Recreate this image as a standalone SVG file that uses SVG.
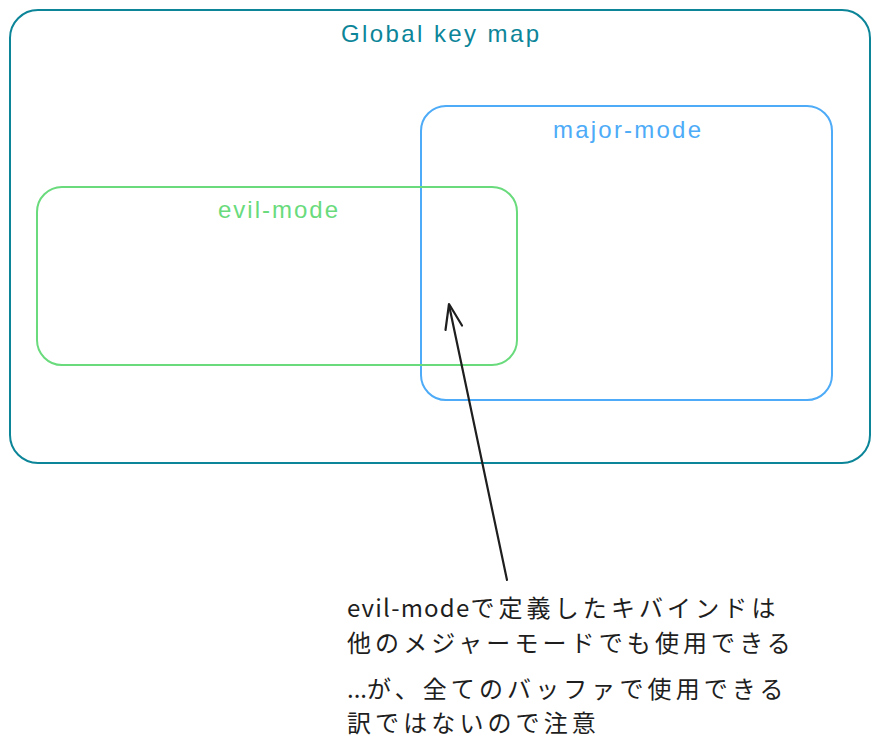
<svg xmlns="http://www.w3.org/2000/svg" width="880" height="755" viewBox="0 0 880 755">
<style>
.box{fill:none;stroke-width:2;stroke-linecap:round;stroke-linejoin:round}
.title{font-family:"Liberation Sans","Noto Sans",sans-serif;font-size:24px;text-anchor:middle}
.note{font-family:"Noto Sans CJK JP","Noto Sans",sans-serif;font-size:24px;fill:#1e1e1e}
.cjk{letter-spacing:4.1px}
.arrow{fill:none;stroke:#1e1e1e;stroke-width:2.2;stroke-linecap:round;stroke-linejoin:round}
</style>
<rect width="880" height="755" fill="#ffffff"/>
<g id="global-key-map">
<rect class="box" x="10" y="10" width="860" height="453" rx="28" stroke="#0c8599"/>
<text class="title" x="440" y="42" fill="#0c8599" textLength="198" lengthAdjust="spacing">Global key map</text>
</g>
<g id="major-mode">
<rect class="box" x="421" y="106" width="411" height="294" rx="25" stroke="#4dabf7"/>
<text class="title" x="627" y="138" fill="#4dabf7" textLength="148" lengthAdjust="spacing">major-mode</text>
</g>
<g id="evil-mode">
<rect class="box" x="37" y="187" width="480" height="178" rx="25" stroke="#69db7c"/>
<text class="title" x="278" y="218" fill="#69db7c" textLength="120" lengthAdjust="spacing">evil-mode</text>
</g>
<g id="connectors">
<path class="arrow" d="M507 580 L449 305"/>
<path class="arrow" d="M445.5 330 L449 304 L462 325.5"/>
</g>
<g id="note">
<text class="note" x="347" y="617"><tspan letter-spacing="1.2">evil-mode</tspan><tspan class="cjk">で定義したキバインドは</tspan></text>
<text class="note cjk" x="347" y="652">他のメジャーモードでも使用できる</text>
<text class="note" x="347" y="698"><tspan>...</tspan><tspan class="cjk">が、全てのバッファで使用できる</tspan></text>
<text class="note cjk" x="347" y="732">訳ではないので注意</text>
</g>
</svg>
